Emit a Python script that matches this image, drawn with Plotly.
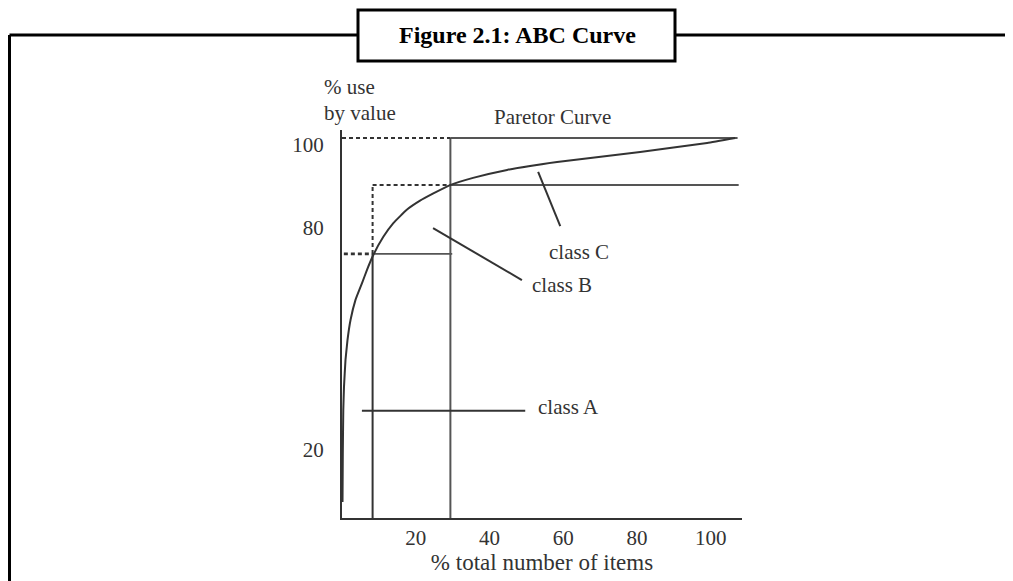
import plotly.graph_objects as go

# Pareto (ABC) curve: % items vs % use by value
pareto_x = [0.14, 0.22, 0.35, 0.54, 0.95, 1.49, 2.31, 3.66, 5.43, 6.78, 8.49, 11.21, 13.92,
            17.56, 21.17, 24.78, 29.31, 35.55, 44.78, 58.34, 80.87, 99.05, 106.65]
pareto_y = [4.2, 17.1, 28.4, 34.5, 41.6, 46.8, 52.1, 57.4, 61.8, 65.3, 69.2, 74.0, 77.6,
            81.1, 83.5, 85.4, 87.6, 89.5, 91.6, 93.7, 96.3, 98.7, 100.0]

# class boundaries
cut_a = 8.3      # % items in class A
cut_b = 29.4     # % items in classes A+B
level_a = 69.5   # % value of class A
level_b = 87.6   # % value of classes A+B
level_top = 100.0
x_end = 107.3

x_ticks = [20, 40, 60, 80, 100]
y_tick_pos = [98.2, 76.3, 17.9]
y_tick_text = ["100", "80", "20"]

# label leaders (data units)
class_a_line = ([5.4, 49.7], [28.2, 28.2])
class_b_line = ([24.7, 48.8], [76.3, 62.6])
class_c_line = ([53.2, 59.2], [91.1, 76.8])
labels = [
    ("class A", 52.6, 29.2, "left"),
    ("class B", 59.7, 61.3, "center"),
    ("class C", 64.3, 70.0, "center"),
]
# labels above the plot area (page pixels)
top_labels = [
    ("Paretor Curve", 552, 117, "center"),
    ("% use", 322, 87, "left"),
    ("by value", 322, 113, "left"),
]

INK = "#333333"
GREY = "#555555"
FONT = "Liberation Serif"

W, H = 1013, 581
ML, MR, MT, MB = 334, 279, 122, 71
PLOT_W = W - ML - MR
PLOT_H = H - MT - MB
OFF = 8  # page body margin


def px_x(p):
    return (p - OFF - ML) / PLOT_W


def px_y(p):
    return 1 - (p - OFF - MT) / PLOT_H


fig = go.Figure()


def seg(xs, ys, color=INK, width=2, dash="solid"):
    fig.add_trace(go.Scatter(x=xs, y=ys, mode="lines", showlegend=False, hoverinfo="skip",
                             line=dict(color=color, width=width, dash=dash), cliponaxis=False))


# solid guide lines
seg([cut_b, cut_b], [0, level_top], GREY, 2)
seg([cut_b, x_end], [level_top, level_top], GREY, 2)
seg([cut_b, x_end + 0.3], [level_b, level_b], GREY, 2)
seg([cut_a, cut_b + 0.5], [level_a, level_a], GREY, 1.6)
seg([cut_a, cut_a], [0, level_a], INK, 2)

# dashed projections
DASH = "4px,3px"
seg([0, cut_b], [level_top, level_top], INK, 2, DASH)
seg([cut_a, cut_b], [level_b, level_b], INK, 2, DASH)
seg([cut_a, cut_a], [level_a, level_b], INK, 2, DASH)
seg([0.5, cut_a], [level_a, level_a], INK, 2.8, DASH)

# leaders
seg(*class_a_line)
seg(*class_b_line)
seg(*class_c_line)

# the curve
fig.add_trace(go.Scatter(x=pareto_x, y=pareto_y, mode="lines", showlegend=False, hoverinfo="skip",
                         line=dict(color=INK, width=2, shape="spline", smoothing=0.3), cliponaxis=False))

for text, x, y, align in labels:
    fig.add_annotation(x=x, y=y, text=text, showarrow=False, xanchor=align, yanchor="middle",
                       font=dict(family=FONT, size=21, color=INK))
for text, x, y, align in top_labels:
    fig.add_annotation(xref="paper", yref="paper", x=px_x(x), y=px_y(y), text=text, showarrow=False,
                       xanchor=align, yanchor="middle", font=dict(family=FONT, size=21, color=INK))

# outer frame with title box
frame = dict(color="black", width=3)
fig.add_shape(type="line", xref="paper", yref="paper", x0=px_x(9.5), x1=px_x(358), y0=px_y(35), y1=px_y(35), line=frame)
fig.add_shape(type="line", xref="paper", yref="paper", x0=px_x(675), x1=px_x(1030), y0=px_y(35), y1=px_y(35), line=frame)
fig.add_shape(type="line", xref="paper", yref="paper", x0=px_x(9.5), x1=px_x(9.5), y0=px_y(35), y1=px_y(600), line=frame)
fig.add_shape(type="rect", xref="paper", yref="paper", x0=px_x(358), x1=px_x(675), y0=px_y(61), y1=px_y(10),
              line=frame, fillcolor="white")
fig.add_annotation(xref="paper", yref="paper", x=px_x(517), y=px_y(35), text="<b>Figure 2.1: ABC Curve</b>",
                   showarrow=False, yanchor="middle", font=dict(family=FONT, size=24, color="black"))

fig.update_layout(
    width=W, height=H, autosize=False,
    margin=dict(l=ML, r=MR, t=MT, b=MB),
    paper_bgcolor="white", plot_bgcolor="white",
    font=dict(family=FONT, size=21, color=INK),
    xaxis=dict(range=[0, 108.5], showgrid=False, zeroline=False, showline=True, linecolor=INK,
               linewidth=2, tickvals=x_ticks, ticks="", ticklabelstandoff=0, automargin=False,
               title=dict(text="% total number of items", standoff=2, font=dict(size=23))),
    yaxis=dict(range=[0, 102.1], showgrid=False, zeroline=False, showline=True, linecolor=INK,
               linewidth=2, tickvals=y_tick_pos, ticktext=y_tick_text, ticks="", ticklabelstandoff=12,
               automargin=False),
)

fig.write_html("out.html")
